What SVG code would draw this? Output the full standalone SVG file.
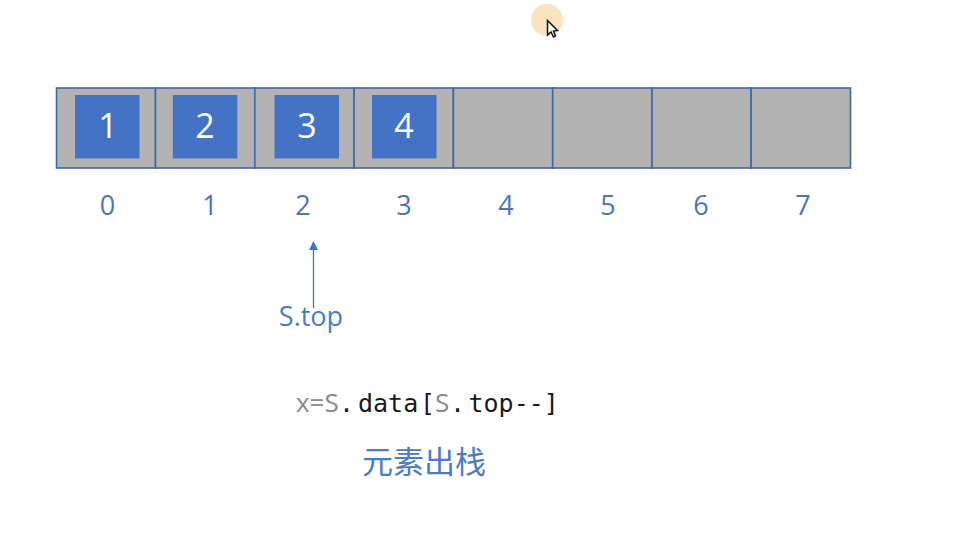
<svg xmlns="http://www.w3.org/2000/svg" width="972" height="541" viewBox="0 0 972 541">
<style>
.cell{fill:#b3b3b3;stroke:#3f66a8;stroke-width:1.6}
.box{fill:#4472c4}
.v{font:34px "Open Sans","Noto Sans",sans-serif;fill:#fff;text-anchor:middle}
.i{font:27px "Open Sans","Noto Sans",sans-serif;fill:#4a75bd;text-anchor:middle}
.m{font:25px "DejaVu Sans Mono","Liberation Mono",monospace;fill:#1a1a1a}
.g{font-family:"Open Sans","Noto Sans",sans-serif;font-size:26px;fill:#8a8a8a}
.s{font-size:5px}
</style>
<defs><marker id="a" markerWidth="9" markerHeight="10" refX="8" refY="4.5" orient="auto" markerUnits="userSpaceOnUse"><path d="M0 0L9 4.500L0 9Z" fill="#4472c4"/></marker></defs>
<rect width="972" height="541" fill="#fff"/>
<g id="cursor"><circle cx="547" cy="20" r="16" fill="#fbe3bd"/><path d="M547.500 20.500L547.500 35L551 32L553.500 37L555.500 36L553.500 31L557.500 30.500Z" fill="#fff" stroke="#111" stroke-width="1.500"/></g>
<g id="cells">
<rect id="cell0" class="cell" x="56.500" y="88" width="99" height="80"/>
<rect id="cell1" class="cell" x="155.500" y="88" width="99.300" height="80"/>
<rect id="cell2" class="cell" x="254.800" y="88" width="99.300" height="80"/>
<rect id="cell3" class="cell" x="354.100" y="88" width="99.300" height="80"/>
<rect id="cell4" class="cell" x="453.400" y="88" width="99.300" height="80"/>
<rect id="cell5" class="cell" x="552.700" y="88" width="99.300" height="80"/>
<rect id="cell6" class="cell" x="652" y="88" width="99.100" height="80"/>
<rect id="cell7" class="cell" x="751.100" y="88" width="99.400" height="80"/>
</g>
<g id="n1"><rect class="box" x="75" y="95" width="64.500" height="63.500"/><text class="v" x="108" y="138">1</text></g>
<g id="n2"><rect class="box" x="172.800" y="95" width="64.500" height="63.500"/><text class="v" x="205" y="138">2</text></g>
<g id="n3"><rect class="box" x="274.500" y="95" width="64.500" height="63.500"/><text class="v" x="307" y="138">3</text></g>
<g id="n4"><rect class="box" x="372" y="95" width="64.500" height="63.500"/><text class="v" x="404" y="138">4</text></g>
<g id="indices">
<text class="i" x="107.500" y="215">0</text><text class="i" x="210" y="215">1</text><text class="i" x="303" y="215">2</text><text class="i" x="404" y="215">3</text><text class="i" x="506" y="215">4</text><text class="i" x="608" y="215">5</text><text class="i" x="701" y="215">6</text><text class="i" x="803" y="215">7</text>
</g>
<g id="connectors"><path d="M313.500 308V242" stroke="#4472c4" stroke-width="1.300" fill="none" marker-end="url(#a)"/></g>
<g id="pointer"><text x="311" y="326" font-family="'Open Sans','Noto Sans',sans-serif" font-size="27" fill="#4a7cc4" text-anchor="middle">S.top</text></g>
<g id="code"><text class="m" y="412"><tspan class="g" x="296">x=S</tspan><tspan x="339">.</tspan><tspan class="s"> </tspan><tspan x="358">data</tspan><tspan x="420">[</tspan><tspan class="g" x="435">S</tspan><tspan x="450">.</tspan><tspan class="s"> </tspan><tspan x="468.500">top--]</tspan></text></g>
<g id="caption"><text x="424" y="473" font-family="'Noto Sans CJK SC',sans-serif" font-size="31" fill="#4a7cc4" text-anchor="middle">元素出栈</text></g>
</svg>
